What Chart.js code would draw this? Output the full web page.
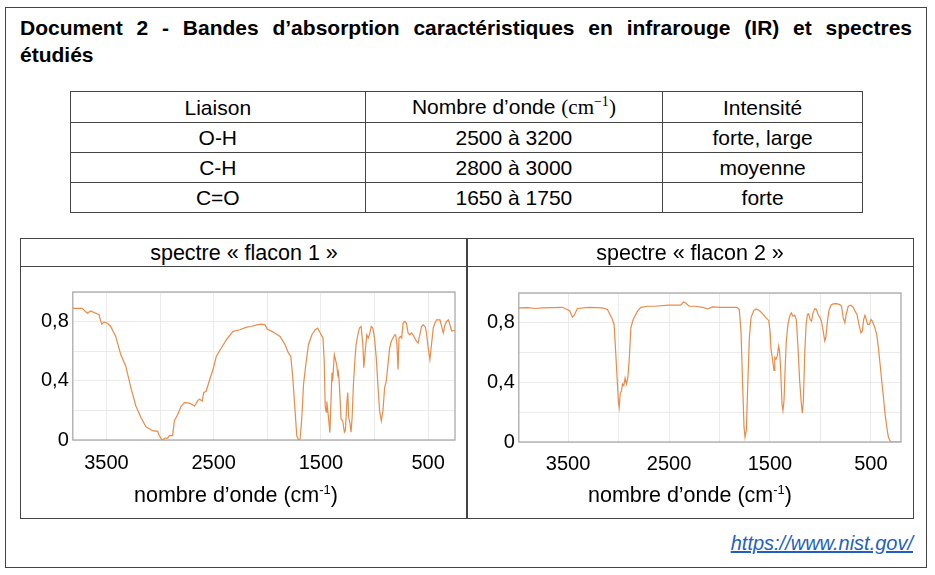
<!DOCTYPE html>
<html lang="fr">
<head>
<meta charset="UTF-8">
<title>Document 2 - Spectres IR</title>
<script src="https://cdn.jsdelivr.net/npm/chart.js"></script>
<style>
    body {
        margin: 0;
        background: #ffffff;
        font-family: "Liberation Sans", Arial, sans-serif;
        color: #000;
    }
    .doc {
        position: absolute;
        left: 5px; top: 7px;
        width: 920px; height: 559px;
        border: 1px solid #444;
    }
    .titre {
        position: absolute;
        left: 20px; top: 14px;
        width: 892px;
        font-weight: bold;
        font-size: 21px;
        line-height: 27px;
    }
    .titre .l1 {
        text-align: justify;
        text-align-last: justify;
    }
    table.bandes {
        position: absolute;
        left: 70px; top: 91px;
        width: 793px;
        border-collapse: collapse;
        font-size: 21px;
    }
    table.bandes td {
        border: 1px solid #444;
        height: 29px;
        padding: 0;
        text-align: center;
        line-height: 29px;
    }
    .math { font-family: "Liberation Serif", "DejaVu Serif", serif; }
    .math sup { font-size: 14px; line-height: 0; }
    .panneau {
        position: absolute;
        top: 238px;
        height: 279px;
        border: 1px solid #444;
    }
    .entete {
        height: 27px;
        line-height: 28px;
        border-bottom: 1px solid #444;
        text-align: center;
        font-size: 21.5px;
    }
    canvas { display: block; }
    .axe {
        position: relative;
        margin-top: -4px;
        text-align: center;
        font-size: 21.5px;
        line-height: 24px;
    }
    .axe sup { font-size: 13px; line-height: 0; }
    .source {
        position: absolute;
        right: 22px; top: 532px;
        font-size: 20px;
        font-style: italic;
        color: #1f5fc4;
        text-decoration: underline;
    }
</style>
</head>
<body>

<div class="doc"></div>
<div class="titre">
    <div class="l1">Document 2 - Bandes d’absorption caractéristiques en infrarouge (IR) et spectres</div>
    <div>étudiés</div>
</div>

<table class="bandes">
    <colgroup><col style="width:295px"><col style="width:298px"><col style="width:200px"></colgroup>
    <tr><td>Liaison</td><td>Nombre d’onde <span class="math">(cm<sup>−1</sup>)</span></td><td>Intensité</td></tr>
    <tr><td>O-H</td><td>2500 à 3200</td><td>forte, large</td></tr>
    <tr><td>C-H</td><td>2800 à 3000</td><td>moyenne</td></tr>
    <tr><td>C=O</td><td>1650 à 1750</td><td>forte</td></tr>
</table>

<div class="panneau" style="left:20px; width:446px;">
    <div class="entete">spectre « flacon 1 »</div>
    <canvas id="flacon1" width="446" height="220"></canvas>
    <div class="axe" style="left:-8px;">nombre d’onde (cm<sup>-1</sup>)</div>
</div>
<div class="panneau" style="left:466px; width:446px;">
    <div class="entete">spectre « flacon 2 »</div>
    <canvas id="flacon2" width="446" height="220"></canvas>
    <div class="axe">nombre d’onde (cm<sup>-1</sup>)</div>
</div>

<div class="source">https://www.nist.gov/</div>

<script>
// tick values
const xGrid = [500, 1000, 1500, 2000, 2500, 3000, 3500];
const xTickLabels = [3500, 2500, 1500, 500];
const yTickLabels = [0, 0.4, 0.8];

// spectre flacon 1 : nombre d'onde (cm-1) / transmittance
const wn1 = [3813, 3725, 3678, 3647, 3569, 3544, 3522, 3491, 3460, 3413, 3366, 3319, 3272, 3225, 3178, 3131,
    3069, 3022, 3006, 2981, 2950, 2928, 2913, 2888, 2881, 2866, 2834, 2803, 2772, 2725, 2678, 2647,
    2631, 2606, 2593, 2569, 2537, 2506, 2475, 2428, 2381, 2319, 2256, 2194, 2147, 2100, 2053, 2022,
    2000, 1944, 1881, 1834, 1803, 1781, 1762, 1741, 1725, 1709, 1694, 1678, 1662, 1637, 1616, 1584,
    1553, 1531, 1506, 1481, 1469, 1460, 1452, 1445, 1432, 1416, 1397, 1391, 1375, 1353, 1344, 1338,
    1328, 1312, 1297, 1281, 1272, 1259, 1250, 1241, 1228, 1219, 1209, 1197, 1184, 1172, 1156, 1141,
    1125, 1109, 1100, 1087, 1072, 1059, 1047, 1031, 1016, 1000, 984, 969, 953, 937, 922, 906,
    891, 875, 859, 844, 828, 812, 803, 791, 781, 772, 759, 747, 734, 719, 703, 687,
    672, 656, 641, 625, 609, 594, 578, 562, 547, 528, 516, 500, 484, 469, 453, 437,
    422, 390, 375, 359, 344, 328, 312, 297, 281, 250];
const t1 = [0.89, 0.89, 0.857, 0.872, 0.846, 0.783, 0.797, 0.789, 0.767, 0.70, 0.577, 0.499, 0.354, 0.23, 0.152, 0.089,
    0.063, 0.058, 0.029, 0.0, 0.013, 0.013, 0.029, 0.029, 0.04, 0.13, 0.174, 0.23, 0.253, 0.249, 0.23, 0.268,
    0.275, 0.264, 0.32, 0.331, 0.409, 0.476, 0.566, 0.622, 0.678, 0.734, 0.745, 0.763, 0.767, 0.778, 0.783, 0.778,
    0.749, 0.729, 0.70, 0.644, 0.588, 0.566, 0.42, 0.197, 0.03, 0.0, 0.007, 0.152, 0.376, 0.532, 0.644, 0.711,
    0.745, 0.756, 0.723, 0.689, 0.532, 0.23, 0.19, 0.26, 0.17, 0.05, 0.454, 0.398, 0.577, 0.51, 0.443, 0.46,
    0.376, 0.141, 0.13, 0.052, 0.063, 0.242, 0.32, 0.152, 0.107, 0.052, 0.152, 0.376, 0.532, 0.644, 0.711, 0.756,
    0.767, 0.644, 0.488, 0.6, 0.711, 0.689, 0.711, 0.767, 0.756, 0.689, 0.555, 0.376, 0.197, 0.13, 0.197, 0.353,
    0.398, 0.51, 0.622, 0.667, 0.689, 0.711, 0.711, 0.644, 0.477, 0.689, 0.70, 0.689, 0.79, 0.801, 0.79, 0.723,
    0.711, 0.723, 0.711, 0.689, 0.667, 0.655, 0.711, 0.767, 0.778, 0.767, 0.723, 0.622, 0.544, 0.644, 0.756, 0.79,
    0.812, 0.812, 0.767, 0.723, 0.778, 0.801, 0.812, 0.778, 0.738, 0.74];

// spectre flacon 2
const wn2 = [3988, 3900, 3820, 3756, 3650, 3557, 3484, 3458, 3438, 3408, 3292, 3160, 3110, 3067, 3044, 3027,
    3011, 3001, 2994, 2984, 2971, 2961, 2948, 2935, 2921, 2908, 2895, 2878, 2855, 2812, 2779, 2713,
    2649, 2500, 2384, 2357, 2334, 2301, 2235, 2169, 2119, 2069, 1986, 1903, 1827, 1804, 1787, 1771,
    1757, 1747, 1734, 1721, 1704, 1688, 1661, 1638, 1605, 1572, 1539, 1512, 1499, 1489, 1475, 1460,
    1452, 1440, 1428, 1414, 1405, 1395, 1381, 1371, 1361, 1348, 1338, 1322, 1305, 1289, 1272, 1255,
    1239, 1222, 1206, 1189, 1179, 1169, 1156, 1142, 1129, 1116, 1103, 1089, 1073, 1056, 1040, 1023,
    1007, 990, 973, 957, 947, 930, 917, 897, 874, 841, 808, 791, 774, 758, 745, 725,
    698, 675, 658, 638, 619, 599, 585, 572, 559, 546, 532, 516, 499, 486, 466, 443,
    426, 409, 393, 376, 360, 343, 327, 310, 293, 202];
const t2 = [0.90, 0.902, 0.896, 0.90, 0.902, 0.904, 0.882, 0.838, 0.851, 0.896, 0.904, 0.90, 0.889, 0.833, 0.789, 0.589,
    0.389, 0.267, 0.233, 0.322, 0.344, 0.389, 0.378, 0.429, 0.389, 0.433, 0.544, 0.767, 0.822, 0.878, 0.904, 0.911,
    0.911, 0.918, 0.918, 0.94, 0.933, 0.911, 0.911, 0.904, 0.893, 0.907, 0.904, 0.904, 0.904, 0.889, 0.744, 0.389,
    0.10, 0.033, 0.078, 0.367, 0.70, 0.833, 0.882, 0.893, 0.882, 0.860, 0.833, 0.816, 0.744, 0.62, 0.556, 0.48,
    0.567, 0.556, 0.578, 0.644, 0.611, 0.5, 0.256, 0.211, 0.278, 0.522, 0.678, 0.789, 0.844, 0.867, 0.844, 0.851,
    0.822, 0.633, 0.411, 0.256, 0.193, 0.278, 0.589, 0.789, 0.856, 0.86, 0.822, 0.811, 0.867, 0.895, 0.889, 0.856,
    0.838, 0.811, 0.744, 0.678, 0.70, 0.811, 0.878, 0.918, 0.927, 0.929, 0.922, 0.911, 0.833, 0.80, 0.856, 0.911,
    0.918, 0.904, 0.878, 0.856, 0.789, 0.733, 0.744, 0.822, 0.851, 0.822, 0.789, 0.789, 0.822, 0.811, 0.778, 0.722,
    0.633, 0.522, 0.411, 0.3, 0.189, 0.1, 0.033, 0.007, 0.0, 0.0];

Chart.defaults.font.family = '"Liberation Sans", Arial, sans-serif';
Chart.defaults.font.size = 20;
Chart.defaults.color = '#000';

// cadre gris autour de la zone de tracé
const cadre = {
    id: 'cadre',
    beforeDatasetsDraw(chart) {
        const { ctx, chartArea: a } = chart;
        ctx.save();
        ctx.strokeStyle = '#a3a3a3';
        ctx.lineWidth = 1.2;
        ctx.strokeRect(a.left, a.top, a.width, a.height);
        ctx.restore();
    }
};

function virgule(v) {
    return String(Math.round(v * 10) / 10).replace('.', ',');
}

function spectre(id, wn, t, xmin, xmax, pad, tickPad) {
    const points = wn.map((x, i) => ({ x: x, y: t[i] }));
    new Chart(document.getElementById(id), {
        type: 'line',
        data: {
            datasets: [{
                data: points,
                borderColor: '#ec8a47',
                borderWidth: 1.2,
                pointRadius: 0,
                tension: 0,
                fill: false
            }]
        },
        options: {
            responsive: false,
            animation: false,
            layout: { padding: pad },
            plugins: { legend: { display: false }, tooltip: { enabled: false } },
            scales: {
                x: {
                    type: 'linear',
                    reverse: true,
                    min: xmin,
                    max: xmax,
                    afterBuildTicks: axis => { axis.ticks = xGrid.map(v => ({ value: v })); },
                    ticks: {
                        autoSkip: false,
                        maxRotation: 0,
                        padding: tickPad,
                        callback: v => xTickLabels.includes(v) ? String(v) : ''
                    },
                    grid: { color: '#ebebeb', drawTicks: false },
                    border: { display: false }
                },
                y: {
                    min: 0,
                    max: 1,
                    ticks: {
                        stepSize: 0.2,
                        padding: 4,
                        callback: v => yTickLabels.some(l => Math.abs(l - v) < 1e-6) ? virgule(v) : ''
                    },
                    grid: { color: '#ebebeb', drawTicks: false },
                    border: { display: false }
                }
            }
        },
        plugins: [cadre]
    });
}

spectre('flacon1', wn1, t1, 250, 3813, { left: 16, right: 12, top: 25, bottom: 1 }, 11);
spectre('flacon2', wn2, t2, 202, 3988, { left: 16, right: 12, top: 26, bottom: 1 }, 10);
</script>
</body>
</html>
